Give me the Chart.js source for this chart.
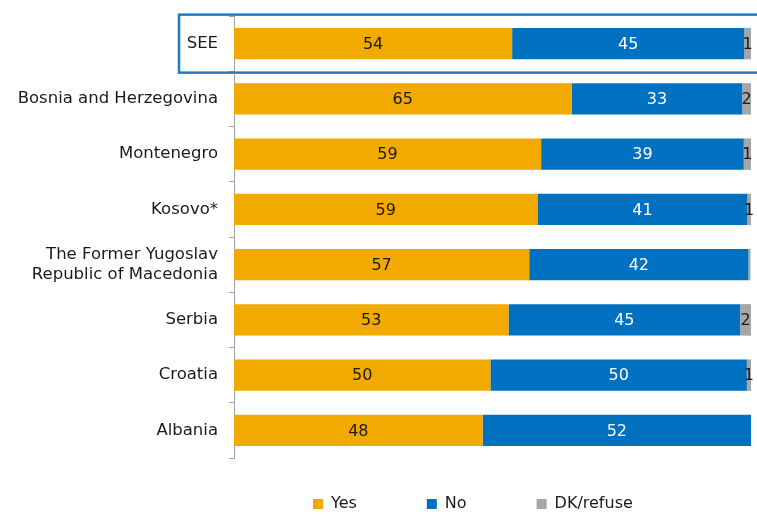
<!DOCTYPE html>
<html>
<head>
<meta charset="utf-8">
<script src="https://cdn.jsdelivr.net/npm/chart.js@4"></script>
<style>
  html, body { margin: 0; padding: 0; background: #fff; }
  #wrap { width: 757px; height: 516px; position: relative; }
</style>
</head>
<body>
<div id="wrap"><canvas id="chart"></canvas></div>
<script>
// Categories (top to bottom)
const categories = [
    'SEE',
    'Bosnia and Herzegovina',
    'Montenegro',
    'Kosovo*',
    ['The Former Yugoslav', 'Republic of Macedonia'],
    'Serbia',
    'Croatia',
    'Albania'
];

// Shares in %
const yesValues = [53.8, 65.3, 59.4, 58.7, 57.1, 53.1, 49.6, 48.1];
const noValues  = [44.9, 33.0, 39.2, 40.6, 42.4, 44.8, 49.6, 51.9];
const dkValues  = [1.3, 1.7, 1.4, 0.7, 0.4, 2.1, 0.8, 0];

const seriesNames = ['Yes', 'No', 'DK/refuse'];
const seriesColors = ['#F2A900', '#0070C0', '#A6A6A6'];
const labelColors = ['#1a1a1a', '#ffffff', '#1a1a1a'];

const fontFamily = '"DejaVu Sans", sans-serif';

// Value labels inside the bars
const barLabels = {
    id: 'barLabels',
    afterDatasetsDraw(chart) {
        const ctx = chart.ctx;
        ctx.save();
        ctx.font = '16px ' + fontFamily;
        ctx.textAlign = 'center';
        ctx.textBaseline = 'middle';
        chart.data.datasets.forEach((ds, i) => {
            const meta = chart.getDatasetMeta(i);
            meta.data.forEach((bar, j) => {
                const v = Math.round(ds.data[j]);
                if (v < 1) return;
                ctx.fillStyle = labelColors[i];
                ctx.fillText(String(v), (bar.x + bar.base) / 2, bar.y + 1);
            });
        });
        ctx.restore();
    }
};

// Blue frame round the SEE row; legend placed under the bars
const seeFrame = {
    id: 'seeFrame',
    afterLayout(chart) {
        const lg = chart.legend;
        lg.left = 243;
        lg.top = 426;
        lg.bottom = 516;
    },
    afterDraw(chart) {
        const ctx = chart.ctx;
        const y = chart.scales.y.getPixelForValue(0);
        const half = 29;
        ctx.save();
        ctx.strokeStyle = '#1F7BC8';
        ctx.lineWidth = 2.5;
        ctx.strokeRect(179, y - half, 600, half * 2);
        ctx.restore();
    }
};

new Chart(document.getElementById('chart'), {
    type: 'bar',
    data: {
        labels: categories,
        datasets: [yesValues, noValues, dkValues].map((vals, i) => ({
            label: seriesNames[i],
            data: vals,
            backgroundColor: seriesColors[i],
            borderWidth: 0,
            categoryPercentage: 1,
            barPercentage: 0.57
        }))
    },
    options: {
        indexAxis: 'y',
        responsive: true,
        maintainAspectRatio: false,
        animation: false,
        layout: { padding: { top: 16, right: 6, bottom: 4, left: 0 } },
        scales: {
            x: {
                stacked: true,
                min: 0,
                max: 100,
                display: false
            },
            y: {
                stacked: true,
                afterFit(scale) {
                    scale.width = 234;
                    scale.paddingTop = 0;
                    scale.paddingBottom = 0;
                },
                grid: {
                    offset: true,
                    drawOnChartArea: false,
                    drawTicks: true,
                    tickLength: 5,
                    color: '#A0A0A0'
                },
                border: { display: true, color: '#A0A0A0', width: 1 },
                ticks: {
                    color: '#1a1a1a',
                    padding: 11,
                    font: { family: fontFamily, size: 16.5, lineHeight: 1.2 }
                }
            }
        },
        plugins: {
            legend: {
                position: 'bottom',
                align: 'start',
                maxHeight: 54,
                labels: {
                    boxWidth: 10,
                    boxHeight: 10,
                    padding: 70,
                    color: '#1a1a1a',
                    font: { family: fontFamily, size: 16 }
                }
            },
            tooltip: { enabled: false }
        }
    },
    plugins: [barLabels, seeFrame]
});
</script>
</body>
</html>
